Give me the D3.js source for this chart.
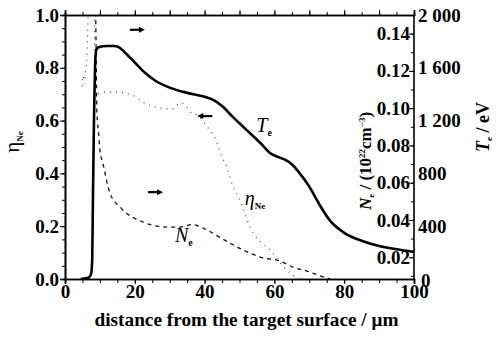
<!DOCTYPE html>
<html>
<head>
<meta charset="utf-8">
<script src="https://cdn.jsdelivr.net/npm/d3@7"></script>
<style>
  body { margin: 0; background: #fff; }
  svg text { font-family: "Liberation Serif", serif; }
</style>
</head>
<body>
<div id="chart"></div>
<script>
// dades llegides de la figura
const teX   = [4.5, 6, 7, 7.5, 7.8, 8.0, 8.3, 8.6, 9.0, 10, 12, 14, 15.5, 17, 20, 23, 26, 30, 35, 40, 43, 45, 48, 52, 56, 59, 61, 63, 65, 67, 70, 73, 76, 80, 85, 90, 95, 100];
const teVal = [0, 5, 15, 40, 150, 600, 1200, 1600, 1740, 1760, 1765, 1765, 1755, 1720, 1640, 1560, 1500, 1450, 1410, 1380, 1350, 1310, 1230, 1130, 1030, 950, 925, 905, 870, 810, 700, 560, 440, 350, 290, 250, 225, 205];

const neX   = [8.7, 8.9, 9.1, 9.3, 9.6, 10.0, 10.6, 11.2, 11.7, 12.9, 15.8, 22.3, 29.2, 33, 36.5, 40.7, 45, 51, 55.9, 61.6, 65.3, 69.3, 74, 76];
const neVal = [0.16, 0.135, 0.10, 0.0925, 0.087, 0.0775, 0.072, 0.0678, 0.063, 0.0544, 0.0469, 0.0389, 0.0362, 0.0362, 0.0375, 0.0346, 0.030, 0.0239, 0.0201, 0.018, 0.0147, 0.0126, 0.0094, 0.0083];

const etaX   = [4.9, 5.2, 5.5, 5.9, 6.4, 6.6, 6.8, 8.3, 8.6, 10.5, 11.5, 14.3, 19.2, 22.3, 27.2, 30.7, 33, 34.4, 35.8, 37.8, 41, 43, 45, 46.4, 47.3, 50.7, 53, 56.4, 59.3, 61, 64.5, 65.9, 68];
const etaVal = [0.73, 0.77, 0.74, 0.79, 0.88, 1.0, 1.1, 1.1, 0.70, 0.705, 0.708, 0.708, 0.697, 0.67, 0.648, 0.644, 0.667, 0.659, 0.633, 0.621, 0.572, 0.534, 0.462, 0.424, 0.383, 0.28, 0.197, 0.136, 0.102, 0.072, 0.023, 0.008, 0];

const xTicks   = [0, 20, 40, 60, 80, 100];
const etaTicks = [0.0, 0.2, 0.4, 0.6, 0.8, 1.0];
const neTicks  = [0.02, 0.04, 0.06, 0.08, 0.10, 0.12, 0.14];
const teTicks  = [0, 400, 800, 1200, 1600, 2000];
const teLabels = ["0", "400", "800", "1 200", "1 600", "2 000"];

const SERIF = "Liberation Serif";

// dimensions
const W = 499, H = 337;
const margin = {top: 15, right: 85, bottom: 58, left: 65};
const width = W - margin.left - margin.right;
const height = H - margin.top - margin.bottom;

const svg = d3.select("#chart").append("svg")
    .attr("width", W).attr("height", H)
  .append("g")
    .attr("transform", `translate(${margin.left}, ${margin.top})`)
    .attr("font-family", SERIF);

svg.append("clipPath").attr("id", "clip")
  .append("rect").attr("width", width).attr("height", height);

// escales
const x = d3.scaleLinear().domain([0, 100]).range([0, width]);
const yEta = d3.scaleLinear().domain([0, 1]).range([height, 0]);
const yTe = d3.scaleLinear().domain([0, 2000]).range([height, 0]);
// l'eix de Ne no comença a zero a la base
const yNe = d3.scaleLinear().domain([0, 0.15]).range([height + 15.5, 0]);

const fmt1 = d3.format(".1f"), fmt2 = d3.format(".2f");

function estilText(g) {
    g.attr("font-family", SERIF);
    g.selectAll("text")
        .style("font-family", SERIF)
        .style("font-weight", "bold")
        .style("font-size", "19px")
        .attr("fill", "#000");
}

// eix esquerre
const gl = svg.append("g")
    .call(d3.axisLeft(yEta).tickValues(d3.range(0, 1.001, 0.05)).tickSize(3).tickFormat(""));
gl.append("g").call(d3.axisLeft(yEta).tickValues(etaTicks).tickSize(5).tickFormat(fmt1));
gl.selectAll("path.domain").attr("stroke-width", 1.6);
estilText(gl);
gl.selectAll("text").attr("x", -6);

// eix inferior
const gb = svg.append("g").attr("transform", `translate(0, ${height})`)
    .call(d3.axisBottom(x).tickValues(d3.range(0, 101, 5)).tickSize(4).tickFormat(""));
gb.append("g").call(d3.axisBottom(x).tickValues(xTicks).tickSize(5).tickFormat(d3.format("d")));
gb.selectAll("path.domain").attr("stroke-width", 1.6);
estilText(gb);
gb.selectAll("text").attr("y", 6);

// eix superior
const gt = svg.append("g")
    .call(d3.axisTop(x).tickValues(d3.range(0, 101, 5)).tickSize(3).tickFormat(""));
gt.append("g").call(d3.axisTop(x).tickValues(d3.range(10, 101, 10)).tickSize(5).tickFormat(""));
gt.selectAll("path.domain").attr("stroke-width", 1.6);

// eix dret Ne (ticks cap a dins)
const gr = svg.append("g").attr("transform", `translate(${width}, 0)`)
    .call(d3.axisLeft(yNe).tickValues(d3.range(0.01, 0.1501, 0.01)).tickSize(3).tickFormat(""));
gr.append("g").call(d3.axisLeft(yNe).tickValues(neTicks).tickSize(5).tickFormat(fmt2));
gr.selectAll("path.domain").remove();
estilText(gr);
gr.selectAll("text").attr("x", -4);
svg.append("line")
    .attr("x1", width).attr("x2", width).attr("y1", 0).attr("y2", height)
    .attr("stroke", "#000").attr("stroke-width", 1.6);

// eix dret Te
const gte = svg.append("g").attr("transform", `translate(${width}, 0)`)
    .call(d3.axisRight(yTe).tickValues(teTicks).tickSize(0).tickFormat((d, i) => teLabels[i]));
gte.selectAll("path.domain").remove();
estilText(gte);
gte.selectAll("text").attr("x", 4);
gte.selectAll("text").filter(d => d === 0).attr("x", 7).attr("dy", "0.4em");

// corbes
const plot = svg.append("g").attr("clip-path", "url(#clip)");

const lineTe = d3.line().x((d, i) => x(teX[i])).y(d => yTe(d)).curve(d3.curveMonotoneX);
const lineNe = d3.line().x((d, i) => x(neX[i])).y(d => yNe(d)).curve(d3.curveMonotoneX);
const lineEta = d3.line().x((d, i) => x(etaX[i])).y(d => yEta(d)).curve(d3.curveMonotoneX);

plot.append("path").datum(etaVal).attr("d", lineEta)
    .attr("fill", "none").attr("stroke", "#333").attr("stroke-width", 1.1)
    .attr("stroke-dasharray", "1,5");
plot.append("path").datum(neVal).attr("d", lineNe)
    .attr("fill", "none").attr("stroke", "#111").attr("stroke-width", 1.3)
    .attr("stroke-dasharray", "4,4");
plot.append("path").datum(teVal).attr("d", lineTe)
    .attr("fill", "none").attr("stroke", "#000").attr("stroke-width", 2.6);

// fletxes
function fletxa(x0, y0, dir) {
    const len = 15;
    const x1 = x0 + dir * len;
    svg.append("line").attr("x1", x0).attr("y1", y0).attr("x2", x1 - dir * 4).attr("y2", y0)
        .attr("stroke", "#000").attr("stroke-width", 2.2);
    svg.append("path")
        .attr("d", `M${x1},${y0} L${x1 - dir * 6},${y0 - 3} L${x1 - dir * 6},${y0 + 3} Z`)
        .attr("fill", "#000");
}
fletxa(x(18.6), yEta(0.944), 1);
fletxa(x(42.2), yEta(0.617), -1);
fletxa(x(23.8), yEta(0.329), 1);

// etiquetes de les corbes
function etiqueta(px, py, main, sub, subSize) {
    const t = svg.append("text").attr("x", px).attr("y", py)
        .style("font-family", SERIF)
        .style("font-size", "20px").style("font-style", "italic");
    t.append("tspan").text(main);
    t.append("tspan").attr("dy", 4).style("font-size", subSize).style("font-style", "normal")
        .style("font-weight", "bold").text(sub);
}
etiqueta(x(54.8), yEta(0.555), "T", "e", "10px");
etiqueta(x(31.5), yEta(0.14), "N", "e", "10px");
etiqueta(x(51.5), yEta(0.28), "η", "Ne", "9px");

// títols dels eixos
svg.append("text")
    .attr("x", width / 2 + 7).attr("y", height + 47)
    .attr("text-anchor", "middle")
    .style("font-family", SERIF).style("font-weight", "bold")
    .style("font-size", "19.3px")
    .text("distance from the target surface / μm");

const tEta = svg.append("text")
    .attr("transform", `translate(${-margin.left + 19}, ${height / 2 - 5}) rotate(-90)`)
    .attr("text-anchor", "middle")
    .style("font-family", SERIF)
    .style("font-size", "21px");
tEta.append("tspan").text("η");
tEta.append("tspan").attr("dy", 4).style("font-size", "9px").style("font-weight", "bold").text("Ne");

const tNe = svg.append("text")
    .attr("transform", `translate(${width - 43}, ${height / 2 + 14}) rotate(-90)`)
    .attr("text-anchor", "middle")
    .style("font-family", SERIF).style("font-weight", "bold")
    .style("font-size", "17px");
tNe.append("tspan").style("font-style", "italic").text("N");
tNe.append("tspan").attr("dy", 3).style("font-size", "9px").text("e");
tNe.append("tspan").attr("dy", -3).text(" / (10");
tNe.append("tspan").attr("dy", -6).style("font-size", "9px").text("22");
tNe.append("tspan").attr("dy", 6).text("cm");
tNe.append("tspan").attr("dy", -6).style("font-size", "9px").text("−3");
tNe.append("tspan").attr("dy", 6).text(")");

const tTe = svg.append("text")
    .attr("transform", `translate(${width + 75}, ${height / 2 - 20}) rotate(-90)`)
    .attr("text-anchor", "middle")
    .style("font-family", SERIF).style("font-weight", "bold")
    .style("font-size", "18px");
tTe.append("tspan").style("font-style", "italic").text("T");
tTe.append("tspan").attr("dy", 3).style("font-size", "9px").text("e");
tTe.append("tspan").attr("dy", -3).text(" / eV");
</script>
</body>
</html>
